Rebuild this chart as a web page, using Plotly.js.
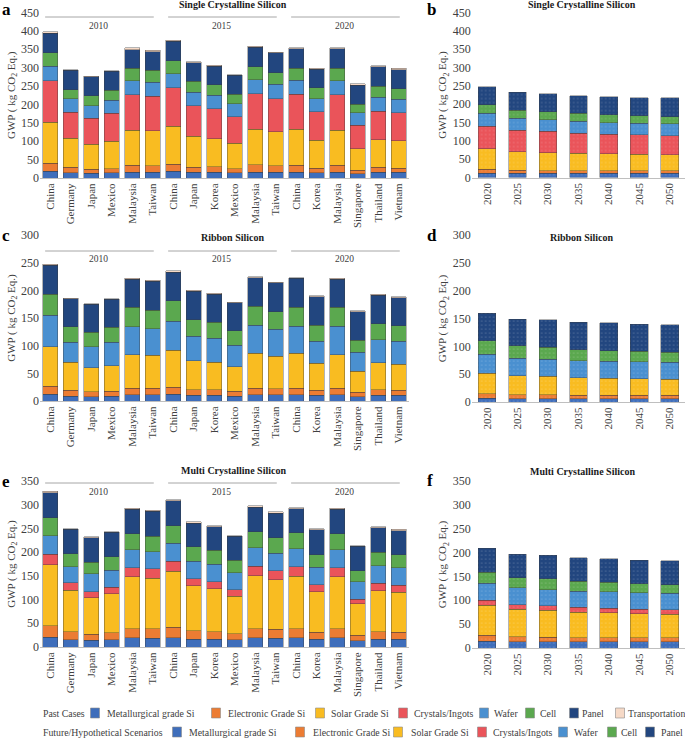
<!DOCTYPE html>
<html><head><meta charset="utf-8">
<script src="https://cdn.plot.ly/plotly-3.0.1.min.js"></script>
<style>html,body{margin:0;padding:0;background:#fff}#chart{width:685px;height:738px}</style>
</head><body><div id="chart"></div>
<script>
// ---------------- DATA ----------------
const pastCountries = ['China','Germany','Japan','Mexico','Malaysia','Taiwan','China','Japan','Korea','Mexico','Malaysia','Taiwan','China','Korea','Malaysia','Singapore','Thailand','Vietnam'];
const pastYearGroups = ['2010','2015','2020'];
const futureYears = ['2020','2025','2030','2035','2040','2045','2050'];
const stageNames = ['Metallurgical grade Si','Electronic Grade Si','Solar Grade Si','Crystals/Ingots','Wafer','Cell','Panel','Transportation'];

// a: Single Crystalline Silicon, past cases
const scMet    = [18,14,13,14,16,16,18,15,15,14,16,16,16,14,16,11,15,15];
const scElec   = [22,15,11,11,19,18,20,14,15,11,20,17,19,13,19,10,14,12];
const scSolar  = [112,79,68,75,95,95,103,84,77,69,96,93,98,75,95,59,75,74];
const scCryst  = [112,71,70,76,97,93,104,84,81,73,97,90,95,78,96,63,77,77];
const scWafer  = [40,36,35,36,37,38,38,36,37,35,38,39,38,36,39,35,39,36];
const scCell   = [37,25,27,26,34,33,36,30,28,26,36,31,33,29,34,23,29,29];
const scPanel  = [53,53,51,52,51,50,53,50,51,52,52,54,52,51,52,51,53,51];
const scTrans  = [4,1,2,1,5,4,3,3,3,1,3,2,3,3,3,4,3,4];

// b: Single Crystalline Silicon, future scenarios
const scfMet   = [11,11,11,11,11,11,11];
const scfElec  = [11,9,8,8,8,7,7];
const scfSolar = [57,50,49,47,46,45,44];
const scfCryst = [61,59,58,55,53,53,52];
const scfWafer = [35,32,32,32,32,32,32];
const scfCell  = [24,23,22,22,21,20,20];
const scfPanel = [49,49,49,48,49,50,51];

// c: Ribbon Silicon, past cases
const rbMet    = [12,9,8,9,11,11,12,10,10,9,11,11,11,10,11,8,10,10];
const rbElec   = [15,10,9,9,12,12,13,10,10,9,12,11,12,9,12,8,10,9];
const rbSolar  = [71,51,43,46,61,60,67,53,50,44,63,59,63,49,61,38,49,47];
const rbWafer  = [57,36,38,42,50,48,52,44,43,39,51,49,49,40,51,34,42,42];
const rbCell   = [38,28,26,27,35,33,37,30,29,26,34,31,34,29,34,22,29,28];
const rbPanel  = [52,51,51,51,51,52,52,51,51,51,52,53,53,51,51,51,51,51];
const rbTrans  = [2,1,1,0.5,2,2,2,2,2,0.5,2,1,1,2,2,2,2,1];

// d: Ribbon Silicon, future scenarios
const rbfMet   = [7,6,6,6,6,6,6];
const rbfElec  = [8,7,7,6,6,6,6];
const rbfSolar = [37,34,33,32,31,30,29];
const rbfWafer = [34,32,31,30,30,30,30];
const rbfCell  = [24,22,21,20,19,19,18];
const rbfPanel = [49,48,50,49,50,49,50];

// e: Multi Crystalline Silicon, past cases
const mcMet    = [21,15,14,15,20,18,20,16,16,15,19,18,19,16,19,13,16,16];
const mcElec   = [24,17,13,15,19,20,22,18,16,13,20,19,20,15,20,12,16,15];
const mcSolar  = [128,88,77,82,109,107,118,95,91,79,111,105,110,85,109,66,87,84];
const mcCryst  = [23,15,13,14,19,20,21,15,15,14,20,19,20,15,19,10,15,15];
const mcWafer  = [39,34,37,36,38,36,38,37,36,36,39,37,38,37,38,37,37,37];
const mcCell   = [38,28,25,28,34,33,37,30,30,26,34,32,34,27,34,23,29,27];
const mcPanel  = [52,51,51,52,51,52,52,50,50,51,52,52,51,52,51,51,51,51];
const mcTrans  = [3,1,2,0.5,3,2,3,3,2,0.5,3,3,2,2,3,2,3,3];

// f: Multi Crystalline Silicon, future scenarios
const mcfMet   = [14,13,13,13,13,13,13];
const mcfElec  = [13,11,10,9,9,9,8];
const mcfSolar = [63,57,56,53,52,50,50];
const mcfCryst = [10,10,10,10,9,9,9];
const mcfWafer = [36,35,33,34,35,35,35];
const mcfCell  = [23,21,23,21,20,19,18];
const mcfPanel = [50,49,49,49,49,49,50];

// ---------------- STYLE ----------------
const stageColors = ['#3F6EBB','#EC7C33','#F9BC21','#EA545A','#4A90D0','#5BA84F','#22467F','#F6D9C6'];
const W = 685, H = 738;
const px = x => x / W;
const py = y => 1 - y / H;
const FONT = '"Liberation Serif", "DejaVu Serif", serif';
const TXT = '#404040';

const panels = [
  {id:'',  title:'Single Crystalline Silicon', letter:'a', future:false, xd:[40,409],    yd:[178,12.5], ymax:450, titleY:5,   letterY:10,  lineY:17,  yearY:26,
   series:[[0,scMet],[1,scElec],[2,scSolar],[3,scCryst],[4,scWafer],[5,scCell],[6,scPanel],[7,scTrans]]},
  {id:'2', title:'Single Crystalline Silicon', letter:'b', future:true,  xd:[471.7,685], yd:[177.5,12.5], ymax:450, titleY:5, letterY:10,
   series:[[0,scfMet],[1,scfElec],[2,scfSolar],[3,scfCryst],[4,scfWafer],[5,scfCell],[6,scfPanel]]},
  {id:'3', title:'Ribbon Silicon', letter:'c', future:false, xd:[40,409],    yd:[401,235], ymax:300, titleY:237, letterY:236, lineY:251, yearY:259,
   series:[[0,rbMet],[1,rbElec],[2,rbSolar],[4,rbWafer],[5,rbCell],[6,rbPanel],[7,rbTrans]]},
  {id:'4', title:'Ribbon Silicon', letter:'d', future:true,  xd:[471.7,685], yd:[402,235], ymax:300, titleY:237, letterY:236,
   series:[[0,rbfMet],[1,rbfElec],[2,rbfSolar],[4,rbfWafer],[5,rbfCell],[6,rbfPanel]]},
  {id:'5', title:'Multi Crystalline Silicon', letter:'e', future:false, xd:[40,409],    yd:[647,481], ymax:350, titleY:470, letterY:481, lineY:483, yearY:492,
   series:[[0,mcMet],[1,mcElec],[2,mcSolar],[3,mcCryst],[4,mcWafer],[5,mcCell],[6,mcPanel],[7,mcTrans]]},
  {id:'6', title:'Multi Crystalline Silicon', letter:'f', future:true,  xd:[471.7,685], yd:[648,481], ymax:350, titleY:471, letterY:480,
   series:[[0,mcfMet],[1,mcfElec],[2,mcfSolar],[3,mcfCryst],[4,mcfWafer],[5,mcfCell],[6,mcfPanel]]}
];

const traces = [];
const layout = {
  width: W, height: H,
  margin: {l:0, r:0, t:0, b:0},
  paper_bgcolor: '#fff', plot_bgcolor: 'rgba(0,0,0,0)',
  barmode: 'stack',
  showlegend: false,
  font: {family: FONT, color: TXT, size: 11},
  annotations: [], shapes: []
};

const pastIdx = pastCountries.map((_, i) => i);

panels.forEach(p => {
  const xa = 'x' + p.id, ya = 'y' + p.id;
  p.series.forEach(([si, vals]) => {
    const t = {
      type: 'bar', xaxis: xa, yaxis: ya,
      x: p.future ? futureYears : pastIdx,
      y: vals, name: stageNames[si],
      width: p.future ? 0.58 : 0.72,
      marker: {color: stageColors[si], line: {color: 'rgba(60,60,60,0.55)', width: 0.7}},
      hoverinfo: 'name+y'
    };
    if (p.future) t.marker.pattern = {shape: '.', bgcolor: stageColors[si], fgcolor: 'rgba(255,255,255,0.38)', fillmode: 'replace', size: 4, solidity: 0.07};
    traces.push(t);
  });
  layout['xaxis' + p.id] = {
    domain: [px(p.xd[0]), px(p.xd[1])], anchor: ya,
    type: p.future ? 'category' : 'linear',
    range: p.future ? [-0.5, 6.5] : [-0.5, 17.5],
    tickmode: p.future ? 'auto' : 'array',
    tickvals: p.future ? undefined : pastIdx,
    ticktext: p.future ? undefined : pastCountries,
    tickangle: -90, ticks: '', showgrid: false, zeroline: false,
    showline: true, linecolor: '#BFBFBF', linewidth: 1,
    tickfont: {family: FONT, size: 11, color: TXT}, fixedrange: true
  };
  layout['yaxis' + p.id] = {
    domain: [py(p.yd[0]), py(p.yd[1])], anchor: xa,
    range: [0, p.ymax], dtick: 50, tick0: 0,
    ticks: '', showgrid: false, zeroline: false, showline: false,
    tickfont: {family: FONT, size: 12, color: TXT},
    title: {text: 'GWP ( kg CO<sub>2</sub> Eq.)', font: {family: FONT, size: 11, color: TXT}, standoff: 3},
    fixedrange: true
  };
  layout.annotations.push({
    xref: 'paper', yref: 'paper',
    x: p.future ? px(582) : px(233), y: py(p.titleY),
    text: '<b>' + p.title + '</b>', showarrow: false,
    xanchor: 'center', yanchor: 'middle',
    font: {family: FONT, size: 10, color: '#1a1a1a'}
  });
  layout.annotations.push({
    xref: 'paper', yref: 'paper',
    x: p.future ? px(425) : px(0), y: py(p.letterY),
    text: '<b>' + p.letter + '</b>', showarrow: false,
    xanchor: 'left', yanchor: 'middle',
    font: {family: FONT, size: 17, color: '#000'}
  });
  if (!p.future) {
    pastYearGroups.forEach((yr, g) => {
      layout.shapes.push({
        type: 'line', xref: xa, yref: 'paper',
        x0: g * 6 - 0.25, x1: g * 6 + 5.05,
        y0: py(p.lineY), y1: py(p.lineY),
        line: {color: '#A6A6A6', width: 1}
      });
      layout.annotations.push({
        xref: xa, yref: 'paper', x: g * 6 + 2.35, y: py(p.yearY),
        text: yr, showarrow: false, xanchor: 'center', yanchor: 'middle',
        font: {family: FONT, size: 9.5, color: TXT}
      });
    });
  }
});

// ---------------- LEGEND (drawn manually) ----------------
const LEG_FS = 9.8;
const legendRows = [
  {label: 'Past Cases', y: 713, stages: [0,1,2,3,4,5,6,7],
   sw: [95,216,320,403,484,530,574,620], tx: [105,226,329,412,492,538,580,626]},
  {label: 'Future/Hypothetical Scenarios', y: 732, stages: [0,1,2,3,4,5,6],
   sw: [177,300,398,482,563,612,650], tx: [187,311,409,491,572,619,659]}
];
legendRows.forEach((r, ri) => {
  layout.annotations.push({
    xref: 'paper', yref: 'paper', x: px(41), y: py(r.y), text: r.label,
    showarrow: false, xanchor: 'left', yanchor: 'middle',
    font: {family: FONT, size: LEG_FS, color: TXT}
  });
  r.stages.forEach((si, k) => {
    layout.shapes.push({
      type: 'rect', xref: 'paper', yref: 'paper',
      x0: px(r.sw[k] - 4.5), x1: px(r.sw[k] + 4.5),
      y0: py(r.y - 5), y1: py(r.y + 5),
      fillcolor: stageColors[si], line: {color: '#8c8c8c', width: 0.6}
    });
    layout.annotations.push({
      xref: 'paper', yref: 'paper', x: px(r.tx[k]), y: py(r.y), text: stageNames[si],
      showarrow: false, xanchor: 'left', yanchor: 'middle',
      font: {family: FONT, size: LEG_FS, color: TXT}
    });
  });
});

Plotly.newPlot('chart', traces, layout, {displayModeBar: false, staticPlot: true});
</script>
</body></html>
